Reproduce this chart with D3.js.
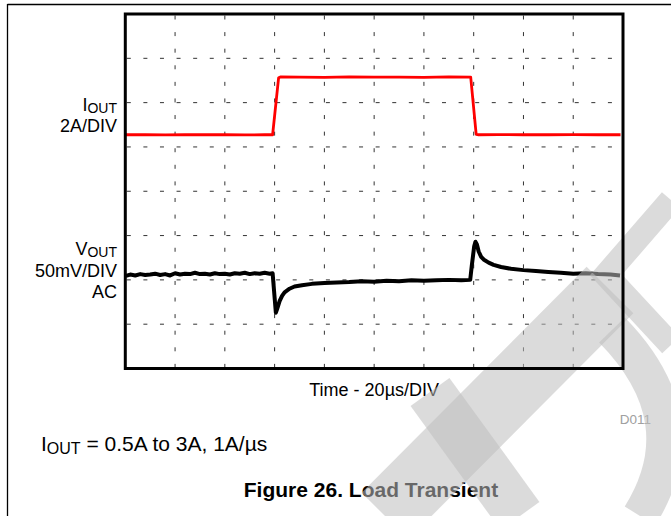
<!DOCTYPE html>
<html>
<head>
<meta charset="utf-8">
<script src="https://cdn.jsdelivr.net/npm/d3@7"></script>
<style>
  html, body { margin: 0; padding: 0; background: #fff; }
  svg { display: block; font-family: "Liberation Sans", Arial, sans-serif; }
</style>
</head>
<body>
<svg id="chart" width="671" height="516"></svg>
<script>
// ---- data (time in µs, current in A, voltage deviation in mV) ----
const timeRange = [0, 200];          // 10 div x 20 µs
const divCountX = 10;
const divCountY = 8;

const iTime = [0.2, 8, 16, 24, 32, 40, 48, 56, 59.2, 61.6, 62.5, 70, 80, 90, 100, 110, 120, 130, 138.8, 141.0, 142, 150, 160, 170, 180, 190, 199];
const iAmps = [0.55, 0.56, 0.54, 0.55, 0.56, 0.55, 0.54, 0.55, 0.55, 3.12, 3.16, 3.15, 3.14, 3.16, 3.15, 3.15, 3.14, 3.16, 3.15, 0.57, 0.55, 0.56, 0.55, 0.55, 0.56, 0.55, 0.55];

const vTime = [0.2, 2, 4, 6, 8, 10, 12, 14, 16, 18, 20, 22, 24, 26, 28, 30, 32, 34, 36, 38, 40, 42, 44, 46, 48, 50, 52, 54, 56, 58, 59.2,
  60.0, 60.5, 61.0, 62, 63, 64, 66, 68, 71, 75, 80, 85, 90, 95, 100, 105, 110, 115, 120, 125, 130, 135, 138.6,
  139.2, 140.2, 140.7, 141.3, 142, 143, 144, 146, 148, 151, 155, 160, 165, 170, 175, 180, 185, 190, 195, 198.8];
const vMilli = [4.5, 6, 5, 6.5, 5.5, 6, 7, 5.5, 6.5, 5, 7.5, 6, 7, 6.5, 8, 6.5, 7, 6, 7.5, 6.5, 7, 6, 7.5, 7, 8, 6.5, 7.5, 7, 8, 7, 7.5,
  -20, -37, -33, -24, -18, -14, -10, -7.5, -6, -4.5, -3.5, -3, -2.5, -1.5, -2, -1, -1.5, -0.5, -1, -0.5, 0, -0.5, 0,
  15, 38, 43, 40, 32, 26, 23, 19.5, 17, 14.5, 12.5, 11, 10, 9, 8, 7, 7.5, 6.5, 6, 5];

const iScale = { ampsPerDiv: 2, zeroDiv: 3 };   // 2A/DIV, zero 3 div from top
const vScale = { mvPerDiv: 50, zeroDiv: 6 };    // 50mV/DIV AC, zero 6 div from top

// ---- layout ----
const svg = d3.select("#chart");
const box = { x0: 125.3, x1: 623, y0: 14, y1: 368.5 };

const x = d3.scaleLinear().domain(timeRange).range([box.x0, box.x1]);
const yDiv = d3.scaleLinear().domain([0, divCountY]).range([box.y0, box.y1]);
const yI = a => yDiv(iScale.zeroDiv - a / iScale.ampsPerDiv);
const yV = mv => yDiv(vScale.zeroDiv - mv / vScale.mvPerDiv);

// outer frame lines
svg.append("line").attr("x1", 7.5).attr("x2", 671).attr("y1", 4.5).attr("y2", 4.5)
  .attr("stroke", "#000").attr("stroke-width", 1.3);
svg.append("line").attr("x1", 7.5).attr("x2", 7.5).attr("y1", 4).attr("y2", 516)
  .attr("stroke", "#000").attr("stroke-width", 1.3);

// grid
const gx = d3.range(1, divCountX).map(i => timeRange[0] + i * (timeRange[1] - timeRange[0]) / divCountX);
const gy = d3.range(1, divCountY);
const period = (box.x1 - box.x0) / divCountX / 3;
svg.append("g").selectAll("line").data(gx).join("line")
  .attr("x1", d => x(d)).attr("x2", d => x(d))
  .attr("y1", box.y0 + 1.5).attr("y2", box.y1 - 1.5)
  .attr("stroke", "#333").attr("stroke-width", 1)
  .attr("stroke-dasharray", `4,${period - 4}`);
svg.append("g").selectAll("line").data(gy).join("line")
  .attr("x1", box.x0 + 1.5).attr("x2", box.x1 - 1.5)
  .attr("y1", d => yDiv(d)).attr("y2", d => yDiv(d))
  .attr("stroke", "#333").attr("stroke-width", 1)
  .attr("stroke-dasharray", `4,${period - 4}`);

// traces
const lineI = d3.line().x((d, i) => x(iTime[i])).y(d => yI(d));
const lineV = d3.line().x((d, i) => x(vTime[i])).y(d => yV(d));
svg.append("path").attr("d", lineV(vMilli)).attr("fill", "none")
  .attr("stroke", "#000").attr("stroke-width", 4).attr("stroke-linejoin", "round");
svg.append("path").attr("d", lineI(iAmps)).attr("fill", "none")
  .attr("stroke", "#ff0000").attr("stroke-width", 2.8).attr("stroke-linejoin", "round");

// channel labels
const lab = svg.append("g").attr("font-size", 18).attr("fill", "#000").attr("text-anchor", "end");
const t1 = lab.append("text").attr("x", 117).attr("y", 111);
t1.append("tspan").text("I");
t1.append("tspan").attr("font-size", 14).attr("dy", 1.5).text("OUT");
lab.append("text").attr("x", 117).attr("y", 131.5).text("2A/DIV");
const t2 = lab.append("text").attr("x", 117).attr("y", 255);
t2.append("tspan").text("V");
t2.append("tspan").attr("font-size", 14).attr("dy", 1.5).text("OUT");
lab.append("text").attr("x", 117).attr("y", 276.5).text("50mV/DIV");
lab.append("text").attr("x", 117).attr("y", 298).text("AC");

// axis title
svg.append("text").attr("x", (box.x0 + box.x1) / 2).attr("y", 396)
  .attr("text-anchor", "middle").attr("font-size", 18).text("Time - 20µs/DIV");

// id
svg.append("text").attr("x", 651).attr("y", 424).attr("text-anchor", "end")
  .attr("font-size", 13.5).attr("fill", "#a0a0a0").text("D011");

// conditions
const cond = svg.append("text").attr("x", 41).attr("y", 450.5).attr("font-size", 21);
cond.append("tspan").text("I");
cond.append("tspan").attr("font-size", 16).attr("dy", 3).text("OUT");
cond.append("tspan").attr("dy", -3).text(" = 0.5A to 3A, 1A/µs");

// caption
svg.append("text").attr("x", 371).attr("y", 497).attr("text-anchor", "middle")
  .attr("font-size", 21).attr("font-weight", "bold").text("Figure 26. Load Transient");

// light background watermark (semi-transparent grey strokes)
const wm = svg.append("g").attr("fill", "none").attr("stroke", "rgb(190,190,190)")
  .attr("stroke-opacity", 0.55).attr("stroke-linecap", "butt").attr("stroke-linejoin", "miter");
wm.append("path").attr("d", "M610,290 L385,516").attr("stroke-width", 66);
wm.append("path").attr("d", "M430,392 L520,516").attr("stroke-width", 48);
wm.append("path").attr("d", "M612,330 Q700,420 640,516").attr("stroke-width", 36);
wm.append("path").attr("d", "M671,200 L606,275 L671,345").attr("stroke-width", 24);

// plot frame
svg.append("rect").attr("x", box.x0).attr("y", box.y0)
  .attr("width", box.x1 - box.x0).attr("height", box.y1 - box.y0)
  .attr("fill", "none").attr("stroke", "#000").attr("stroke-width", 3);
</script>
</body>
</html>
